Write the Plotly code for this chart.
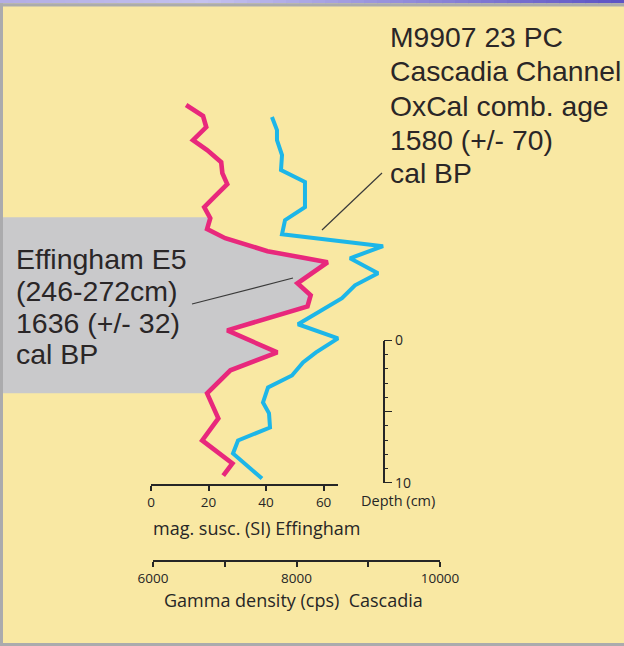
import numpy as np
import plotly.graph_objects as go

W, H = 624, 646

# Effingham core: magnetic susceptibility (SI) vs depth (cm below top of plotted interval)
EFF_DEPTH = [0.35, 1.13, 1.90, 2.82, 3.52, 4.37, 5.14, 5.92, 6.76, 7.54, 8.31, 9.08, 9.72,
             10.63, 11.41, 12.89, 13.73, 14.51, 16.20, 17.75, 19.01, 20.63, 22.39, 23.94,
             25.56, 26.41]
EFF_MAGSUS = [12.2, 18.1, 19.2, 14.6, 19.5, 24.4, 24.8, 26.5, 22.3, 18.5, 20.6, 19.5, 25.8,
              40.5, 61.4, 50.9, 55.5, 54.4, 26.5, 43.9, 27.6, 19.5, 23.4, 17.8, 28.3, 25.1]

# Cascadia Channel M9907-23PC: gamma density (cps) vs depth (cm)
CAS_DEPTH = [1.20, 2.11, 2.82, 3.87, 4.93, 5.77, 7.54, 8.45, 9.44, 10.28, 11.13, 12.18, 13.03,
             13.94, 15.77, 16.76, 17.75, 18.45, 19.37, 20.21, 21.27, 22.04, 23.03, 23.94,
             24.86, 26.62]
CAS_GAMMA = [7658, 7728, 7728, 7798, 7784, 8118, 8118, 7840, 7798, 9206, 8746, 9136, 8815,
             8634, 8021, 8578, 8272, 8091, 7937, 7603, 7533, 7617, 7631, 7185, 7115, 7519]

# Effingham E5 turbidite interval (depth, cm)
E5_TOP, E5_BOTTOM = 8.24, 20.63

MAGSUS_TICKS = [0, 20, 40, 60]
GAMMA_TICKS = [6000, 7000, 8000, 9000, 10000]
GAMMA_TICKTEXT = ["6000", "", "8000", "", "10000"]
DEPTH_TICKS = [0, 5, 10]
DEPTH_TICKTEXT = ["0", "", "10"]

TOP_LINES = ["M9907 23 PC", "Cascadia Channel", "OxCal comb. age", "1580 (+/- 70)", "cal BP"]
LEFT_LINES = ["Effingham E5", "(246-272cm)", "1636 (+/- 32)", "cal BP"]

# ---- layout geometry (pixels) ----
MS_X0, MS_X1, MS_RANGE, MS_Y = 151, 338, (0, 65), 485
GD_X0, GD_X1, GD_RANGE, GD_Y = 153, 440, (6000, 10000), 561
DEPTH_X, DEPTH_Y0, DEPTH_Y1, DEPTH_RANGE = 383.5, 340.5, 482.7, (0, 10)
DEPTH_TOP_PX = 100

BG = "#F9E8A3"
GREY_FILL = "#C9C9CB"
FRAME = "#ABABAD"
PINK = "#E8287C"
BLUE = "#1DB6E8"
INK = "#2A2627"
AXIS_INK = "#262626"


def px(x):
    return x / W


def py(y):
    return 1 - y / H


# full-canvas data axes sharing the scales of the visible axis bars
ms_ppu = (MS_X1 - MS_X0) / (MS_RANGE[1] - MS_RANGE[0])
x_range = [MS_RANGE[0] - MS_X0 / ms_ppu, MS_RANGE[0] + (W - MS_X0) / ms_ppu]
gd_ppu = (GD_X1 - GD_X0) / (GD_RANGE[1] - GD_RANGE[0])
x2_range = [GD_RANGE[0] - GD_X0 / gd_ppu, GD_RANGE[0] + (W - GD_X0) / gd_ppu]
ppc = (DEPTH_Y1 - DEPTH_Y0) / (DEPTH_RANGE[1] - DEPTH_RANGE[0])
y_range = [(H - DEPTH_TOP_PX) / ppc, -DEPTH_TOP_PX / ppc]

fig = go.Figure()

# grey band left of the Effingham curve across the E5 interval
d = np.array(EFF_DEPTH)
m = np.array(EFF_MAGSUS)
inside = (d > E5_TOP) & (d < E5_BOTTOM)
m_top = float(np.interp(E5_TOP, d, m))
m_bot = float(np.interp(E5_BOTTOM, d, m))
left = x_range[0] - 5
band_x = [left, m_top] + list(m[inside]) + [m_bot, left]
band_y = [E5_TOP, E5_TOP] + list(d[inside]) + [E5_BOTTOM, E5_BOTTOM]
fig.add_trace(go.Scatter(x=band_x, y=band_y, fill="toself", fillcolor=GREY_FILL,
                         line=dict(width=0), mode="lines", hoverinfo="skip",
                         showlegend=False, xaxis="x", yaxis="y"))

fig.add_trace(go.Scatter(x=EFF_MAGSUS, y=EFF_DEPTH, mode="lines",
                         line=dict(color=PINK, width=4.6), showlegend=False,
                         xaxis="x", yaxis="y", name="mag. susc."))
fig.add_trace(go.Scatter(x=CAS_GAMMA, y=CAS_DEPTH, mode="lines",
                         line=dict(color=BLUE, width=4.0), showlegend=False,
                         xaxis="x2", yaxis="y", name="Gamma density"))

# placeholders so the scale-bar axes are drawn
for xa, ya in [("x3", "y"), ("x4", "y"), ("x", "y2")]:
    fig.add_trace(go.Scatter(x=[None], y=[None], xaxis=xa, yaxis=ya,
                             showlegend=False, hoverinfo="skip"))

hidden = dict(visible=False, showgrid=False, zeroline=False, fixedrange=True)
tick_font = dict(family="Open Sans", size=13.5, color=AXIS_INK)

fig.update_layout(
    width=W, height=H, margin=dict(l=0, r=0, t=0, b=0, pad=0, autoexpand=False),
    paper_bgcolor=BG, plot_bgcolor="rgba(0,0,0,0)",
    showlegend=False,
    xaxis=dict(domain=[0, 1], range=x_range, anchor="y", **hidden),
    xaxis2=dict(domain=[0, 1], range=x2_range, overlaying="x", anchor="y", **hidden),
    yaxis=dict(domain=[0, 1], range=y_range, anchor="x", **hidden),
    xaxis3=dict(domain=[px(MS_X0), px(MS_X1)], range=list(MS_RANGE), anchor="free",
                position=py(MS_Y), showline=True, linecolor=AXIS_INK, linewidth=1.5,
                ticks="outside", ticklen=5, tickwidth=1.5, tickcolor=AXIS_INK,
                tickvals=MAGSUS_TICKS, tickfont=tick_font, showgrid=False,
                zeroline=False, fixedrange=True, automargin=False),
    xaxis4=dict(domain=[px(GD_X0), px(GD_X1)], range=list(GD_RANGE), anchor="free",
                position=py(GD_Y), showline=True, linecolor=AXIS_INK, linewidth=1.5,
                ticks="outside", ticklen=5, tickwidth=1.5, tickcolor=AXIS_INK,
                tickvals=GAMMA_TICKS, ticktext=GAMMA_TICKTEXT, tickfont=tick_font,
                showgrid=False, zeroline=False, fixedrange=True, automargin=False),
    yaxis2=dict(domain=[py(DEPTH_Y1), py(DEPTH_Y0)], range=[DEPTH_RANGE[1], DEPTH_RANGE[0]],
                anchor="free", position=px(DEPTH_X), side="right", showline=True,
                linecolor=AXIS_INK, linewidth=1.5, ticks="outside", ticklen=8,
                tickwidth=1.3, tickcolor=AXIS_INK, tickvals=DEPTH_TICKS,
                ticktext=DEPTH_TICKTEXT,
                tickfont=dict(family="Open Sans", size=14, color=AXIS_INK),
                minor=dict(dtick=1, ticks="outside", ticklen=3.5, tickwidth=1.2,
                           tickcolor=AXIS_INK, showgrid=False),
                showgrid=False, zeroline=False, fixedrange=True, automargin=False),
)

annotations = []
top_y = [36.7, 71.0, 105.5, 139.5, 173.0]
for line, yy in zip(TOP_LINES, top_y):
    annotations.append(dict(x=px(388), y=py(yy), xref="paper", yref="paper", text=line,
                            showarrow=False, xanchor="left", yanchor="middle",
                            font=dict(family="Liberation Sans", size=28.3, color=INK)))
left_y = [258.5, 290.5, 322.5, 354.0]
for line, yy in zip(LEFT_LINES, left_y):
    annotations.append(dict(x=px(14), y=py(yy), xref="paper", yref="paper", text=line,
                            showarrow=False, xanchor="left", yanchor="middle",
                            font=dict(family="Liberation Sans", size=28.5, color=INK)))

title_font = dict(family="Open Sans", size=18, color=AXIS_INK)
annotations += [
    dict(x=px(256), y=py(528), xref="paper", yref="paper", text="mag. susc. (SI) Effingham",
         showarrow=False, xanchor="center", yanchor="middle", font=title_font),
    dict(x=px(293), y=py(600), xref="paper", yref="paper",
         text="Gamma density (cps)&nbsp;&nbsp;Cascadia",
         showarrow=False, xanchor="center", yanchor="middle", font=title_font),
    dict(x=px(398), y=py(500), xref="paper", yref="paper", text="Depth (cm)",
         showarrow=False, xanchor="center", yanchor="middle",
         font=dict(family="Open Sans", size=14.5, color=AXIS_INK)),
]
fig.update_layout(annotations=annotations)

shapes = []
# leader lines from the age labels to the event beds
for (xa, ya, xb, yb) in [(322, 230, 382, 173), (192, 304, 293, 278)]:
    shapes.append(dict(type="line", xref="paper", yref="paper", x0=px(xa), y0=py(ya),
                       x1=px(xb), y1=py(yb), line=dict(color="#3A3A3A", width=1.2),
                       layer="above"))

# slide frame: gradient title strip and grey edges
stops = [(0.0, (178, 172, 228)), (0.33, (196, 193, 238)), (1.0, (92, 82, 196))]
N = 48
for i in range(N):
    t = (i + 0.5) / N
    for (t0, c0), (t1, c1) in zip(stops[:-1], stops[1:]):
        if t0 <= t <= t1:
            f = (t - t0) / (t1 - t0)
            c = tuple(int(round(a + (b - a) * f)) for a, b in zip(c0, c1))
            break
    shapes.append(dict(type="rect", xref="paper", yref="paper", x0=i / N, x1=(i + 1) / N + 0.002,
                       y0=py(3.3), y1=1, line=dict(width=0),
                       fillcolor="rgb(%d,%d,%d)" % c, layer="above"))
shapes += [
    dict(type="rect", xref="paper", yref="paper", x0=0, x1=1, y0=py(6.5), y1=py(3.3),
         line=dict(width=0), fillcolor=FRAME, layer="above"),
    dict(type="rect", xref="paper", yref="paper", x0=0, x1=px(3), y0=0, y1=py(3.3),
         line=dict(width=0), fillcolor=FRAME, layer="above"),
    dict(type="rect", xref="paper", yref="paper", x0=0, x1=1, y0=0, y1=py(643),
         line=dict(width=0), fillcolor=FRAME, layer="above"),
]
fig.update_layout(shapes=shapes)

fig.write_html("out.html")
